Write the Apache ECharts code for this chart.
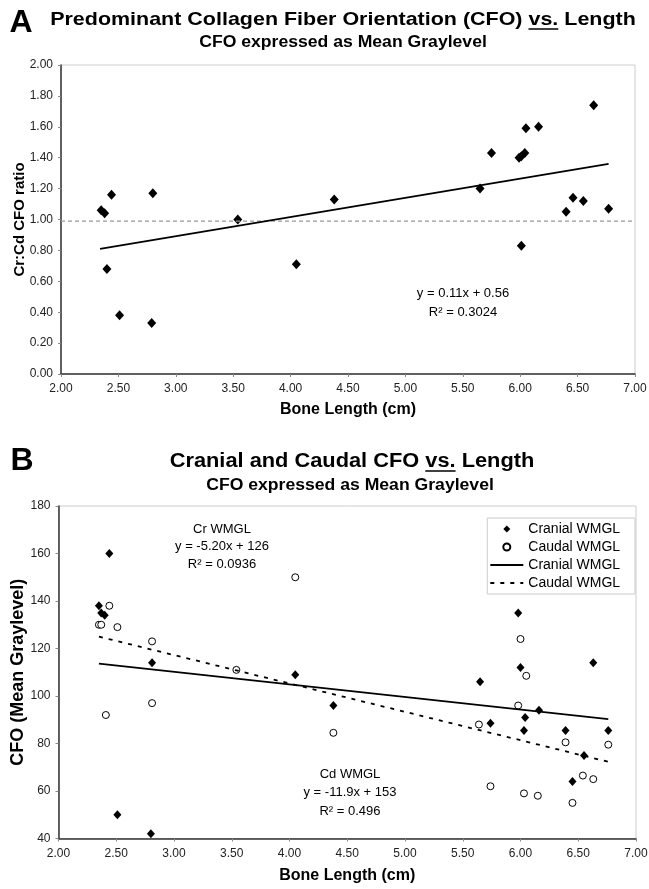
<!DOCTYPE html>
<html>
<head>
<meta charset="utf-8">
<script src="https://cdn.jsdelivr.net/npm/echarts@6/dist/echarts.min.js"></script>
<style>
  html, body { margin: 0; padding: 0; background: #fff; }
  #chart { width: 649px; height: 889px; }
</style>
</head>
<body>
<div id="chart"></div>
<script>
// panel A: Cr:Cd CFO ratio vs bone length
const lengthsA = [2.35, 2.38, 2.44, 2.40, 2.51, 2.79, 2.80, 3.54, 4.05, 4.38, 5.65, 5.75,
  5.99, 6.01, 6.04, 6.05, 6.01, 6.16, 6.40, 6.46, 6.55, 6.64, 6.77];
const ratiosA = [1.06, 1.04, 1.16, 0.68, 0.38, 0.33, 1.17, 1.00, 0.71, 1.13, 1.20, 1.43,
  1.40, 1.41, 1.43, 1.59, 0.83, 1.60, 1.05, 1.14, 1.12, 1.74, 1.07];
const trendA = [[2.34, 0.81], [6.77, 1.36]];
const refLineA = [[2.0, 0.99], [7.0, 0.99]];

// panel B: cranial / caudal mean graylevel vs bone length
const cranialLengths = [2.35, 2.37, 2.40, 2.44, 2.51, 2.80, 2.81, 4.05, 4.38, 5.65, 5.74,
  5.98, 6.00, 6.04, 6.03, 6.16, 6.39, 6.45, 6.55, 6.63, 6.76];
const cranialValues = [138, 135, 134, 160, 50, 42, 114, 109, 96, 106, 88.5,
  135, 112, 91, 85.5, 94, 85.5, 64, 75, 114, 85.5];
const caudalLengths = [2.35, 2.37, 2.44, 2.51, 2.41, 2.81, 2.81, 3.54, 4.05, 4.38, 5.64,
  5.74, 5.98, 6.00, 6.05, 6.03, 6.15, 6.39, 6.45, 6.54, 6.63, 6.76];
const caudalValues = [130, 130, 138, 129, 92, 123, 97, 111, 150, 84.5, 88,
  62, 96, 124, 108.5, 59, 58, 80.5, 55, 66.5, 65, 79.5];
const cranialTrend = [[2.35, 113.6], [6.76, 90.3]];
const caudalTrend = [[2.35, 125.0], [6.76, 72.3]];

const xTicks = { min: 2, max: 7, interval: 0.5 };
const yTicksA = { min: 0, max: 2, interval: 0.2 };
const yTicksB = { min: 40, max: 180, interval: 20 };

const FONT = "'Liberation Sans', Arial, sans-serif";
// diamond padded out to the 33x7 legend box so it is not stretched
const LEGEND_DIAMOND = "path://M-4,0 M4,0 M0,-1 L1,0 L0,1 L-1,0 Z";

const measureCtx = document.createElement("canvas").getContext("2d");
function textWidth(text, font) {
  measureCtx.font = font;
  return measureCtx.measureText(text).width;
}

function zip(xs, ys) {
  return xs.map((x, i) => [x, ys[i]]);
}

function makeXAxis(gridIndex, gap) {
  return {
    type: "value",
    gridIndex: gridIndex,
    min: xTicks.min,
    max: xTicks.max,
    interval: xTicks.interval,
    name: "Bone Length (cm)",
    nameLocation: "middle",
    nameGap: gap,
    nameMoveOverlap: false,
    nameTextStyle: { fontFamily: FONT, fontWeight: "bold", fontSize: 16, color: "#000" },
    axisLine: { lineStyle: { color: "#333", width: 1.5 } },
    axisTick: { show: true, length: 3, lineStyle: { color: "#888" } },
    axisLabel: {
      fontFamily: FONT,
      fontSize: 12,
      color: "#222",
      margin: 9,
      formatter: (v) => v.toFixed(2),
    },
    splitLine: { show: false },
  };
}

function makeYAxis(gridIndex, ticks, name, gap, nameSize, fmt) {
  return {
    type: "value",
    gridIndex: gridIndex,
    min: ticks.min,
    max: ticks.max,
    interval: ticks.interval,
    name: name,
    nameLocation: "middle",
    nameGap: gap,
    nameMoveOverlap: false,
    nameTextStyle: { fontFamily: FONT, fontWeight: "bold", fontSize: nameSize, color: "#000" },
    axisLine: { show: true, lineStyle: { color: "#333", width: 1.5 } },
    axisTick: { show: true, length: 3, lineStyle: { color: "#888" } },
    axisLabel: { fontFamily: FONT, fontSize: 12, color: "#222", margin: 8, formatter: fmt },
    splitLine: { show: false },
  };
}

function textEl(text, x, y, size, bold, sx) {
  return {
    type: "text",
    x: x,
    y: y,
    scaleX: sx || 1,
    style: {
      text: text,
      fill: "#000",
      font: (bold ? "bold " : "") + size + "px " + FONT,
      textAlign: "center",
      textVerticalAlign: "middle",
    },
  };
}

// underline the "vs." part of a centred, horizontally scaled title
function underlineVs(before, full, cx, y, size, sx) {
  const font = "bold " + size + "px " + FONT;
  const start = cx - (textWidth(full, font) * sx) / 2 + textWidth(before, font) * sx;
  const w = textWidth("vs.", font) * sx;
  return {
    type: "line",
    shape: { x1: start, y1: y, x2: start + w, y2: y },
    style: { stroke: "#000", lineWidth: 1.5 },
  };
}

const titleA = "Predominant Collagen Fiber Orientation (CFO) vs. Length";
const titleB = "Cranial and Caudal CFO vs. Length";
const subtitle = "CFO expressed as Mean Graylevel";

const chart = echarts.init(document.getElementById("chart"));

chart.setOption({
  animation: false,
  backgroundColor: "#fff",
  grid: [
    {
      left: 61, right: 14, top: 65, bottom: 515,
      outerBoundsMode: "none",
      show: true, borderColor: "#ccc", borderWidth: 1,
    },
    {
      left: 58.5, right: 13, top: 506, bottom: 50.5,
      outerBoundsMode: "none",
      show: true, borderColor: "#ccc", borderWidth: 1,
    },
  ],
  xAxis: [makeXAxis(0, 28), makeXAxis(1, 29)],
  yAxis: [
    makeYAxis(0, yTicksA, "Cr:Cd CFO ratio", 34, 15, (v) => v.toFixed(2)),
    makeYAxis(1, yTicksB, "CFO (Mean Graylevel)", 31, 18, (v) => String(v)),
  ],
  legend: {
    right: 14,
    top: 518,
    orient: "vertical",
    itemWidth: 33,
    itemHeight: 7,
    itemGap: 4,
    padding: [4, 11, 4, 2],
    backgroundColor: "#fff",
    borderColor: "#ccc",
    borderWidth: 1,
    textStyle: { fontFamily: FONT, fontSize: 14, color: "#000" },
    data: [
      { name: "Cranial WMGL", icon: LEGEND_DIAMOND },
      { name: "Caudal WMGL", icon: "circle" },
      { name: "Cranial WMGL ", itemStyle: { opacity: 0 } },
      { name: "Caudal WMGL ", itemStyle: { opacity: 0 } },
    ],
  },
  series: [
    {
      type: "line",
      xAxisIndex: 0,
      yAxisIndex: 0,
      data: refLineA,
      symbol: "none",
      lineStyle: { color: "#999", width: 1.2, type: [4, 3] },
      silent: true,
    },
    {
      type: "line",
      xAxisIndex: 0,
      yAxisIndex: 0,
      data: trendA,
      symbol: "none",
      lineStyle: { color: "#000", width: 1.8 },
    },
    {
      type: "scatter",
      xAxisIndex: 0,
      yAxisIndex: 0,
      data: zip(lengthsA, ratiosA),
      symbol: "diamond",
      symbolSize: [9, 10],
      itemStyle: { color: "#000", opacity: 1 },
    },
    {
      name: "Cranial WMGL ",
      type: "line",
      xAxisIndex: 1,
      yAxisIndex: 1,
      data: cranialTrend,
      symbol: "none",
      color: "#000",
      lineStyle: { color: "#000", width: 1.8 },
    },
    {
      name: "Caudal WMGL ",
      type: "line",
      xAxisIndex: 1,
      yAxisIndex: 1,
      data: caudalTrend,
      symbol: "none",
      color: "#000",
      lineStyle: { color: "#000", width: 1.8, type: [4, 6] },
    },
    {
      name: "Caudal WMGL",
      type: "scatter",
      xAxisIndex: 1,
      yAxisIndex: 1,
      data: zip(caudalLengths, caudalValues),
      symbol: "circle",
      symbolSize: 7,
      itemStyle: { color: "#fff", borderColor: "#000", borderWidth: 1, opacity: 1 },
    },
    {
      name: "Cranial WMGL",
      type: "scatter",
      xAxisIndex: 1,
      yAxisIndex: 1,
      data: zip(cranialLengths, cranialValues),
      symbol: "diamond",
      symbolSize: [8, 9],
      itemStyle: { color: "#000", opacity: 1 },
    },
  ],
  graphic: [
    textEl("A", 21, 23, 32, true),
    textEl(titleA, 343, 20, 19, true, 1.13),
    underlineVs("Predominant Collagen Fiber Orientation (CFO) ", titleA, 343, 29, 19, 1.13),
    textEl(subtitle, 343, 43, 16, true, 1.1),
    textEl("y = 0.11x + 0.56", 463, 293, 13, false),
    textEl("R\u00b2 = 0.3024", 463, 312, 13, false),
    textEl("B", 22, 461, 32, true),
    textEl(titleB, 352, 461, 20, true, 1.09),
    underlineVs("Cranial and Caudal CFO ", titleB, 352, 471, 20, 1.09),
    textEl(subtitle, 350, 486, 16, true, 1.1),
    textEl("Cr WMGL", 222, 529, 13, false),
    textEl("y = -5.20x + 126", 222, 546, 13, false),
    textEl("R\u00b2 = 0.0936", 222, 564, 13, false),
    textEl("Cd WMGL", 350, 774, 13, false),
    textEl("y = -11.9x + 153", 350, 792, 13, false),
    textEl("R\u00b2 = 0.496", 350, 811, 13, false),
  ],
});
</script>
</body>
</html>
